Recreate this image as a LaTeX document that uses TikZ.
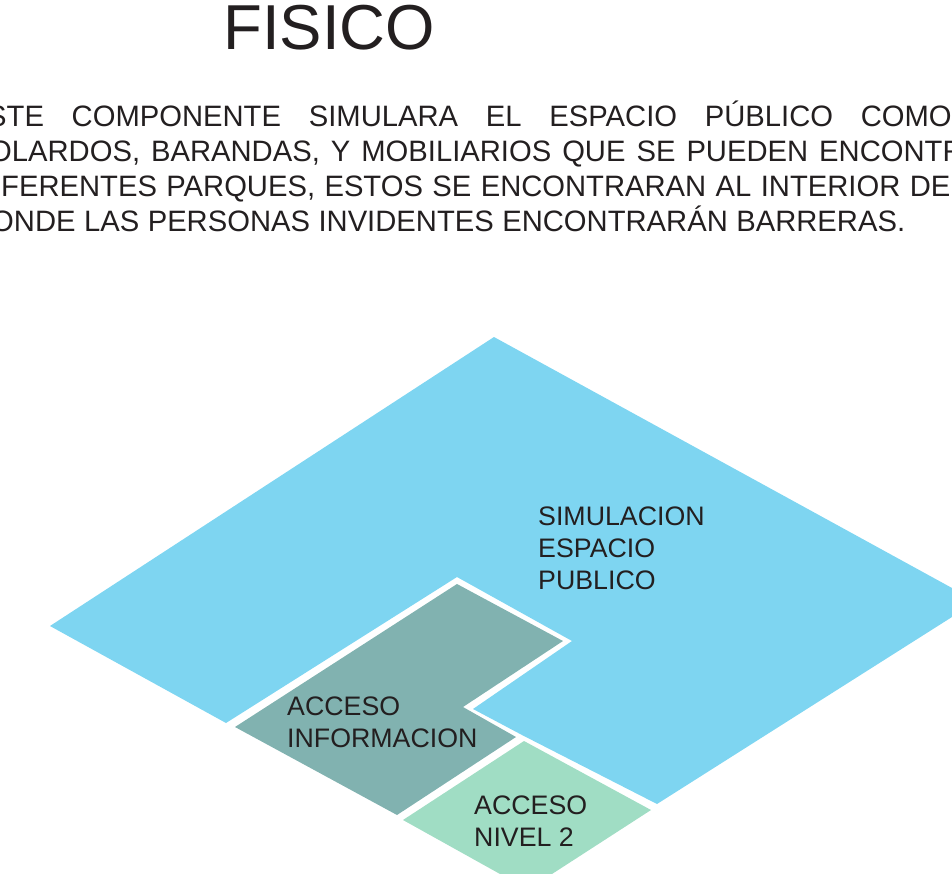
\documentclass[tikz,border=0pt]{standalone}
\usepackage{fontspec}
\setmainfont{Liberation Sans}
\newfontfamily\bodyfont[FakeStretch=0.99]{Liberation Sans}
\definecolor{bluearea}{HTML}{7ED5F1}
\definecolor{tealarea}{HTML}{81B2B0}
\definecolor{greenarea}{HTML}{A0DDC4}
\definecolor{ink}{HTML}{231F20}
\tikzset{x=1pt,y=-1pt,
 lbl/.style={anchor=base west,inner sep=0pt,text=ink,font=\fontsize{26.75}{27}\selectfont},
 body/.style={anchor=base west,inner sep=0pt,text=ink,font=\bodyfont\fontsize{29.5}{29.5}\selectfont}}
\begin{document}
\begin{tikzpicture}
\useasboundingbox[clip] (0,0) rectangle (952,874);
\fill[bluearea] (494,337) -- (952,588) -- (952,617) -- (657,804) -- (522,735) -- (473,709) -- (572,641) -- (457,577) -- (226,723) -- (50,626) -- cycle;
\fill[tealarea] (457,584) -- (563,641) -- (463,707) -- (516,737) -- (397,815) -- (235,727) -- cycle;
\fill[greenarea] (524,741) -- (651,810) -- (552,874) -- (500,874) -- (403,820) -- cycle;
\node[anchor=base west,inner sep=0pt,text=ink,font=\fontsize{63.5}{64}\selectfont] (title) at (223,50) {FISICO};
\node[body] (l1) at (-13,126.5) {\hbox to 964.5pt{\spaceskip=0pt plus 1fil STE COMPONENTE SIMULARA EL ESPACIO PÚBLICO COMO}};
\node[body] (l2) at (-11,161.5) {\spaceskip=11pt OLARDOS, BARANDAS, Y MOBILIARIOS QUE SE PUEDEN ENCONTRAR};
\node[body] (l3) at (1,196.5) {\spaceskip=9.4pt FERENTES PARQUES, ESTOS SE ENCONTRARAN AL INTERIOR DE};
\node[body] (l4) at (-9,231.5) {\spaceskip=8.5pt ONDE LAS PERSONAS INVIDENTES ENCONTRARÁN BARRERAS.};
\node[lbl] (s1) at (538,525) {SIMULACION};
\node[lbl] (s2) at (538,557) {ESPACIO};
\node[lbl] (s3) at (538,589) {PUBLICO};
\node[lbl] (a1) at (287,715) {ACCESO};
\node[lbl] (a2) at (287,747) {INFORMACION};
\node[lbl] (n1) at (474,814) {ACCESO};
\node[lbl] (n2) at (474,846) {NIVEL 2};
\end{tikzpicture}
\end{document}
